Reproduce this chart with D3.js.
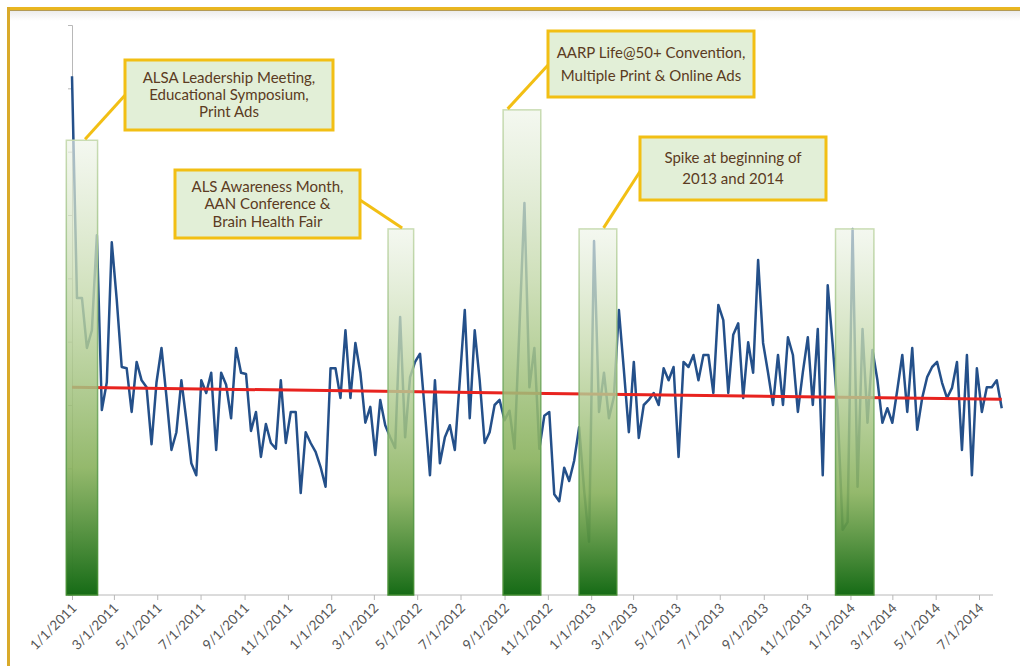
<!DOCTYPE html>
<html>
<head>
<meta charset="utf-8">
<script src="https://cdn.jsdelivr.net/npm/d3@7"></script>
<style>
  html, body { margin: 0; padding: 0; background: #fff; }
  svg { display: block; }
</style>
</head>
<body>
<svg id="chart" width="1020" height="666"></svg>
<script>
// ---------- DATA ----------
const startDate = "2011-01-01";            // first weekly observation
const weeklyValues = [
  819,469,469,390,418,568,292,336,557,466,360,358,289,368,339,328,238,336,390,313,
  229,257,339,276,208,189,339,319,351,229,351,332,279,390,351,349,259,289,218,270,
  240,231,339,240,289,289,161,257,240,226,202,171,358,358,311,418,311,398,351,272,
  297,221,308,268,249,232,439,249,344,368,381,287,189,339,208,249,268,229,339,450,
  279,418,339,240,257,300,308,276,291,231,423,619,328,390,231,283,289,159,148,201,
  180,212,265,166,84,559,289,351,279,313,450,355,257,368,248,300,308,319,300,358,
  339,360,218,368,360,379,339,379,379,319,458,434,319,411,429,311,399,351,529,398,
  351,300,379,300,407,379,289,352,407,300,420,189,489,395,292,103,115,578,171,420,
  272,387,339,272,295,272,324,379,289,390,261,311,344,360,368,335,311,327,368,229,
  379,189,358,289,328,328,339,295
];
const trendDates  = ["2011-01-01", "2014-08-02"];
const trendValues = [328, 309];

const highlightStarts = ["2010-12-24","2012-03-21","2012-08-30","2012-12-15","2013-12-11"];
const highlightEnds   = ["2011-02-06","2012-04-26","2012-10-22","2013-02-06","2014-02-03"];
const highlightTops   = [718, 578, 766, 578, 578];

const calloutTexts = [
  ["ALSA Leadership Meeting,", "Educational Symposium,", "Print Ads"],
  ["ALS Awareness Month,", "AAN Conference &", "Brain Health Fair"],
  ["AARP Life@50+ Convention,", "Multiple Print & Online Ads"],
  ["Spike at beginning of", "2013 and 2014"]
];
const calloutBar = [0, 1, 2, 3];

const axisStart = "2011-01-01", axisEnd = "2014-07-01";
const yMax = 900, yStep = 100;

// ---------- LAYOUT ----------
const W = 1020, H = 666;
const plot = { left: 72, right: 979, top: 25, bottom: 595, axisEndX: 993, axisStartX: 66 };
const boxes = [
  { x: 125, y: 60,  w: 208, h: 70, lh: 17,   anchorFrac: 0.6  },
  { x: 175, y: 170, w: 185, h: 68, lh: 17.5, anchorFrac: 0.55 },
  { x: 548, y: 31,  w: 206, h: 66, lh: 23,   anchorFrac: 0.12 },
  { x: 640, y: 137, w: 186, h: 63, lh: 21,   anchorFrac: 0.65 }
];
const connectorFrom = [[127, 93], [360, 200], [549, 64], [641, 170]];

const parse = d3.timeParse("%Y-%m-%d");
const svg = d3.select("#chart");

const x = d3.scaleTime().domain([parse(axisStart), parse(axisEnd)]).range([plot.left, plot.right]);
const y = d3.scaleLinear().domain([0, yMax]).range([plot.bottom, plot.top]);

const series = weeklyValues.map((v, i) => ({ date: d3.timeDay.offset(parse(startDate), 7 * i), value: v }));

// frame
svg.append("rect").attr("x", 0).attr("y", 0).attr("width", W).attr("height", H).attr("fill", "#fff");
const defs = svg.append("defs");
const shade = defs.append("linearGradient").attr("id", "topShade").attr("x1", 0).attr("x2", 0).attr("y1", 0).attr("y2", 1);
shade.append("stop").attr("offset", "0%").attr("stop-color", "#ececec");
shade.append("stop").attr("offset", "100%").attr("stop-color", "#ffffff");
svg.append("rect").attr("x", 10).attr("y", 11).attr("width", W - 10).attr("height", 10).attr("fill", "url(#topShade)");
svg.append("line").attr("x1", 7).attr("x2", W).attr("y1", 8.5).attr("y2", 8.5).attr("stroke", "#e9b620").attr("stroke-width", 3);
svg.append("line").attr("x1", 7).attr("x2", W).attr("y1", 10.5).attr("y2", 10.5).attr("stroke", "#b39a55").attr("stroke-width", 1);
svg.append("line").attr("x1", 8.5).attr("x2", 8.5).attr("y1", 7).attr("y2", H).attr("stroke", "#d9aa2a").attr("stroke-width", 3);

// y axis (no labels)
const yAxis = d3.axisLeft(y).tickValues(d3.range(0, yMax + 1, yStep)).tickSize(4).tickFormat("");
const gy = svg.append("g").attr("transform", `translate(${plot.left},0)`).call(yAxis);
gy.selectAll("path, line").attr("stroke", "#b8b8b8");

// x axis
const xAxis = d3.axisBottom(x).ticks(d3.timeMonth.every(2)).tickSize(5).tickFormat(d3.timeFormat("%-m/%-d/%Y"));
const gx = svg.append("g").attr("transform", `translate(0,${plot.bottom})`).call(xAxis);
gx.select(".domain").remove();
gx.append("line").attr("x1", plot.axisStartX).attr("x2", plot.axisEndX).attr("y1", 0).attr("y2", 0).attr("stroke", "#b8b8b8");
gx.selectAll(".tick line").attr("stroke", "#b8b8b8");
gx.selectAll(".tick text")
  .attr("font-family", "Lato, 'Open Sans', sans-serif")
  .attr("font-size", "13.5px")
  .attr("fill", "#555")
  .attr("text-anchor", "end")
  .attr("y", 0).attr("dy", 0)
  .attr("transform", "translate(5,14) rotate(-45)");

// data line
const line = d3.line().x(d => x(d.date)).y(d => y(d.value));
svg.append("path").datum(series).attr("d", line)
  .attr("fill", "none").attr("stroke", "#24508a").attr("stroke-width", 2.5).attr("stroke-linejoin", "round");

// trend line
const trend = trendDates.map((d, i) => ({ date: parse(d), value: trendValues[i] }));
svg.append("path").datum(trend).attr("d", line)
  .attr("fill", "none").attr("stroke", "#e8231f").attr("stroke-width", 3);

// highlight bars
const grad = defs.append("linearGradient").attr("id", "barGrad").attr("x1", 0).attr("x2", 0).attr("y1", 0).attr("y2", 1);
grad.append("stop").attr("offset", "0%").attr("stop-color", "#eef4e8").attr("stop-opacity", 0.66);
grad.append("stop").attr("offset", "35%").attr("stop-color", "#c3d8a9").attr("stop-opacity", 0.8);
grad.append("stop").attr("offset", "72%").attr("stop-color", "#88b15c").attr("stop-opacity", 0.9);
grad.append("stop").attr("offset", "100%").attr("stop-color", "#166b16").attr("stop-opacity", 1);
const strokeGrad = defs.append("linearGradient").attr("id", "barStroke").attr("x1", 0).attr("x2", 0).attr("y1", 0).attr("y2", 1);
strokeGrad.append("stop").attr("offset", "0%").attr("stop-color", "#c9dcb3");
strokeGrad.append("stop").attr("offset", "100%").attr("stop-color", "#3f8a2e");

const bars = highlightStarts.map((s, i) => ({ s: parse(s), e: parse(highlightEnds[i]), top: highlightTops[i] }));
svg.append("g").selectAll("rect").data(bars).join("rect")
  .attr("x", d => x(d.s)).attr("width", d => x(d.e) - x(d.s))
  .attr("y", d => y(d.top)).attr("height", d => y(0) - y(d.top))
  .attr("fill", "url(#barGrad)").attr("stroke", "url(#barStroke)").attr("stroke-width", 1.5);

// callouts
const gold = "#f2bf14";
calloutTexts.forEach((lines, i) => {
  const b = boxes[i];
  const target = bars[calloutBar[i]];
  const tx = x(target.s) + b.anchorFrac * (x(target.e) - x(target.s));
  const ty = y(target.top) - 1;
  svg.append("line").attr("x1", connectorFrom[i][0]).attr("y1", connectorFrom[i][1])
    .attr("x2", tx).attr("y2", ty).attr("stroke", gold).attr("stroke-width", 3);
  svg.append("rect").attr("x", b.x).attr("y", b.y).attr("width", b.w).attr("height", b.h)
    .attr("fill", "#e2efd7").attr("stroke", gold).attr("stroke-width", 3);
  const cy = b.y + b.h / 2;
  const n = lines.length;
  lines.forEach((t, j) => {
    svg.append("text").attr("x", b.x + b.w / 2).attr("y", cy + (j - (n - 1) / 2) * b.lh)
      .attr("dy", "0.35em").attr("text-anchor", "middle")
      .attr("font-family", "Lato, 'Open Sans', sans-serif").attr("font-size", "15px")
      .attr("fill", "#5b3b22").text(t);
  });
});
</script>
</body>
</html>
